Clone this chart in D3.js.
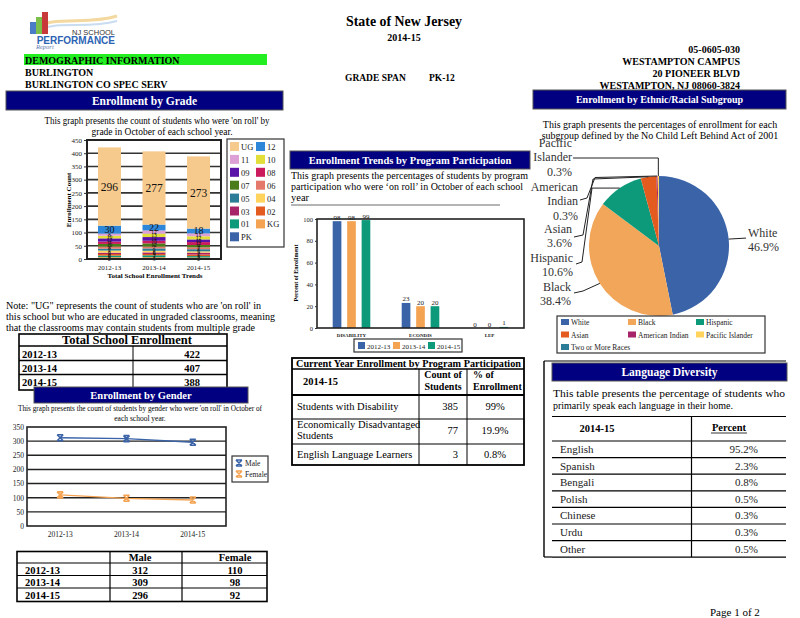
<!DOCTYPE html>
<html><head><meta charset="utf-8">
<script src="https://cdn.jsdelivr.net/npm/d3@7"></script>
<style>body{margin:0;background:#fff}svg{display:block;font-family:"Liberation Serif","Times New Roman",serif}</style>
</head><body><svg id="c" width="800" height="618"></svg>
<script>
// ---------------- DATA ----------------
const years = ["2012-13", "2013-14", "2014-15"];
const grades = ["PK","KG","01","02","03","04","05","06","07","08","09","10","11","12","UG"];
const grades2012 = [2,5,6,6,5,8,7,8,10,9,12,10,8,30,296];
const grades2013 = [3,4,7,5,6,6,9,7,12,10,14,13,12,22,277];
const grades2014 = [2,4,5,6,7,5,8,7,9,11,10,12,11,18,273];
const totalEnrollment = [422, 407, 388];
const programCats = ["DISABILITY", "ECONDIS", "LEP"];
const program2012 = [98, 23, 0];
const program2013 = [98, 20, 0];
const program2014 = [99, 20, 1];
const progTicks = [0, 20, 40, 60, 80, 100];
const ethnicNames = ["White","Black","Hispanic","Asian","American Indian","Pacific Islander","Two or More Races"];
const ethnicPct = [46.9, 38.4, 10.6, 3.6, 0.3, 0.3, 0];
const genderMale = [312, 309, 296];
const genderFemale = [110, 98, 92];
const currentProgNames = ["Students with Disability", "Economically Disadvantaged Students", "English Language Learners"];
const currentProgCounts = [385, 77, 3];
const currentProgPct = ["99%", "19.9%", "0.8%"];
const languages = ["English","Spanish","Bengali","Polish","Chinese","Urdu","Other"];
const languagePct = ["95.2%","2.3%","0.8%","0.5%","0.3%","0.3%","0.5%"];

// ---------------- STYLE ----------------
const serif = '"Liberation Serif","Times New Roman",serif';
const NAVY = "#000080";
const gradeColors = ["#3a63a8","#f4a352","#0c9a7a","#e35b1e","#a8246a","#ffd35c","#2a7c97","#e4786a","#4a7d1a","#cc1b5c","#5a12a8","#e2de3a","#dca0d6","#2e86d8","#f6c98c"];
const yearColors = ["#3a63a8","#f4a352","#0c9a7a"];
const ethnicColors = ["#3a63a8","#f2a65a","#0c9a7a","#e35b1e","#a8246a","#ffd35c","#2a7c97"];

const svg = d3.select("#c");
function T(x, y, s, size, o = {}) {
  const t = svg.append("text").attr("x", x).attr("y", y).attr("font-size", size)
    .attr("text-anchor", o.a || "start").attr("fill", o.c || "#000").text(s);
  if (o.b) t.attr("font-weight", "bold");
  if (o.f) t.attr("font-family", o.f);
  if (o.st) t.attr("font-style", o.st);
  if (o.len) t.attr("textLength", o.len).attr("lengthAdjust", "spacingAndGlyphs");
  return t;
}
function navyBar(x, y, w, h, s, size) {
  svg.append("rect").attr("x", x).attr("y", y).attr("width", w).attr("height", h).attr("fill", NAVY).attr("stroke", "#555").attr("stroke-width", 1);
  T(x + w / 2, y + h / 2 + size * 0.35, s, size, {a: "middle", b: true, c: "#fff"});
}
function line(x1, y1, x2, y2, w = 1, c = "#000") {
  svg.append("line").attr("x1", x1).attr("y1", y1).attr("x2", x2).attr("y2", y2).attr("stroke", c).attr("stroke-width", w);
}
function styleAxis(g, size) {
  g.attr("font-family", serif).attr("font-size", size);
  g.select(".domain").remove();
  g.selectAll(".tick line").attr("stroke", "#333");
  g.selectAll("text").attr("fill", "#222");
}

// ---------------- HEADER ----------------
const logo = svg.append("g");
logo.append("path").attr("d", "M30,30 C55,14 85,26 117,16").attr("fill", "none").attr("stroke", "#f3d9a0").attr("stroke-width", 3);
logo.append("path").attr("d", "M30,33 C55,19 85,30 117,21").attr("fill", "none").attr("stroke", "#c9dcf0").attr("stroke-width", 2);
logo.append("rect").attr("x", 30).attr("y", 22).attr("width", 6).attr("height", 12).attr("fill", "#4a7cc8");
logo.append("rect").attr("x", 36).attr("y", 17).attr("width", 6).attr("height", 17).attr("fill", "#7cbf4a");
logo.append("rect").attr("x", 42).attr("y", 12).attr("width", 6).attr("height", 22).attr("fill", "#c83a3a");
T(115, 35, "NJ SCHOOL", 7.5, {a: "end", f: "Liberation Sans", c: "#333"});
T(115, 43.5, "PERFORMANCE", 10, {a: "end", b: true, f: "Liberation Sans", c: "#2c64b4"});
T(36, 49, "Report", 6.5, {st: "italic", c: "#6080b0"});

T(404, 26, "State of New Jersey", 14, {a: "middle", b: true, len: 116});
T(404, 41, "2014-15", 10, {a: "middle", b: true});

svg.append("rect").attr("x", 24).attr("y", 54).attr("width", 243).attr("height", 11).attr("fill", "#22ee22");
T(25, 63.5, "DEMOGRAPHIC INFORMATION", 10, {b: true});
T(25, 76, "BURLINGTON", 10, {b: true});
T(25, 88, "BURLINGTON CO SPEC SERV", 10, {b: true});
T(345, 81, "GRADE SPAN", 9.5, {b: true});
T(429, 81, "PK-12", 9.5, {b: true});
const addr = ["05-0605-030", "WESTAMPTON CAMPUS", "20 PIONEER BLVD", "WESTAMPTON, NJ 08060-3824"];
addr.forEach((s, i) => T(740, 53 + i * 12, s, 10, {a: "end", b: true}));

navyBar(6, 91, 277, 19, "Enrollment by Grade", 11.5);
navyBar(533, 90, 253, 19, "Enrollment by Ethnic/Racial Subgroup", 10);

// ---------------- ENROLLMENT BY GRADE ----------------
T(157, 124, "This graph presents the count of students who were 'on roll' by", 9.5, {a: "middle", len: 225});
T(162, 135, "grade in October of each school year.", 9.5, {a: "middle", len: 141});

const gradeRows = years.map((y, i) => {
  const vals = [grades2012, grades2013, grades2014][i];
  const r = {year: y};
  grades.forEach((g, j) => r[g] = vals[j]);
  return r;
});
const gx = d3.scaleBand().domain(years).range([87, 221]).paddingInner(0.483).paddingOuter(0.247);
const gy = d3.scaleLinear().domain([0, 450]).range([259, 140]);
const gStack = d3.stack().keys(grades)(gradeRows);
const gChart = svg.append("g");
gChart.selectAll("line.grid").data(gy.ticks(9).filter(d => d > 0 && d < 450)).join("line")
  .attr("x1", 87).attr("x2", 221).attr("y1", d => gy(d)).attr("y2", d => gy(d)).attr("stroke", "#333").attr("stroke-width", 1.6);
gStack.forEach((layer, li) => {
  gChart.selectAll(null).data(layer).join("rect")
    .attr("x", d => gx(d.data.year)).attr("width", gx.bandwidth())
    .attr("y", d => gy(d[1])).attr("height", d => gy(d[0]) - gy(d[1]))
    .attr("fill", gradeColors[li]);
});
gStack.forEach((layer) => {
  gChart.selectAll(null).data(layer).join("text")
    .attr("x", d => gx(d.data.year) + gx.bandwidth() / 2)
    .attr("y", d => (gy(d[0]) + gy(d[1])) / 2)
    .attr("dy", "0.35em").attr("text-anchor", "middle")
    .attr("font-size", d => { const v = d[1] - d[0]; return v >= 100 ? 11.5 : v >= 15 ? 10 : 5.5; })
    .attr("fill", "#111")
    .text(d => d[1] - d[0]);
});
gChart.append("rect").attr("x", 87).attr("y", 140).attr("width", 134).attr("height", 119).attr("fill", "none").attr("stroke", "#222").attr("stroke-width", 2);
const gya = svg.append("g").attr("transform", "translate(86,0)").call(d3.axisLeft(gy).ticks(9).tickSize(2).tickPadding(2));
styleAxis(gya, 7);
const gxa = svg.append("g").attr("transform", "translate(0,260)").call(d3.axisBottom(gx).tickSize(0).tickPadding(5));
styleAxis(gxa, 7);
T(155, 278, "Total School Enrollment Trends", 7, {a: "middle", b: true});
svg.append("text").attr("transform", "translate(71,200) rotate(-90)").attr("text-anchor", "middle")
  .attr("font-size", 7).attr("font-weight", "bold").text("Enrollment Count");

const gLegOrder = grades.slice().reverse();
svg.append("rect").attr("x", 227).attr("y", 139).attr("width", 57).attr("height", 108).attr("fill", "#fff").attr("stroke", "#333").attr("stroke-width", 1.2);
gLegOrder.forEach((g, i) => {
  const col = i % 2, row = Math.floor(i / 2);
  const x = 230 + col * 26, y = 142 + row * 12.9;
  svg.append("rect").attr("x", x).attr("y", y).attr("width", 9).attr("height", 9).attr("fill", gradeColors[grades.indexOf(g)]);
  T(x + 11, y + 8, g, 8.5, {c: "#222"});
});

// Note
T(6, 309, "Note: \"UG\" represents the count of students who are 'on roll' in", 10, {len: 255});
T(6, 320, "this school but who are educated in ungraded classrooms, meaning", 10, {len: 269});
T(6, 331, "that the classrooms may contain students from multiple grade", 10, {len: 249});

// Total school enrollment table
svg.append("rect").attr("x", 19).attr("y", 334).attr("width", 208).attr("height", 56).attr("fill", "#fff").attr("stroke", "#000").attr("stroke-width", 1.6);
T(127, 344, "Total School Enrollment", 12.5, {a: "middle", b: true});
[346, 360.5, 374.5].forEach(y => line(19, y, 227, y, 1.3));
line(133, 346, 133, 390, 1);
years.forEach((y, i) => {
  T(22, 357.5 + i * 14, y, 10.5, {b: true});
  T(192, 357.5 + i * 14, totalEnrollment[i], 10.5, {a: "middle", b: true});
});

// ---------------- ENROLLMENT BY GENDER ----------------
navyBar(34, 387, 214, 16, "Enrollment by Gender", 10.5);
T(140, 411, "This graph presents the count of students by gender who were 'on roll' in October of", 7.5, {a: "middle", len: 244});
T(140, 421, "each school year.", 7.5, {a: "middle"});
const sx = d3.scaleBand().domain(years).range([27, 226]);
const sy = d3.scaleLinear().domain([0, 350]).range([526, 427]);
svg.selectAll("line.sgrid").data(sy.ticks(7).filter(d => d > 0 && d < 350)).join("line")
  .attr("x1", 27).attr("x2", 226).attr("y1", d => sy(d)).attr("y2", d => sy(d)).attr("stroke", "#222").attr("stroke-width", 1.4);
const genderSeries = [{name: "Male", vals: genderMale, c: yearColors[0]}, {name: "Female", vals: genderFemale, c: yearColors[1]}];
const ln = d3.line().x((d, i) => sx(years[i]) + sx.bandwidth() / 2).y(d => sy(d));
function xMark(g, x, y, c, s) {
  g.append("path").attr("d", `M${x - s},${y - s}L${x + s},${y + s}M${x - s},${y + s}L${x + s},${y - s}M${x - s},${y - s}L${x + s},${y - s}M${x - s},${y + s}L${x + s},${y + s}`)
    .attr("stroke", c).attr("stroke-width", 1.6).attr("fill", "none");
}
genderSeries.forEach(s => {
  svg.append("path").datum(s.vals).attr("d", ln).attr("fill", "none").attr("stroke", s.c).attr("stroke-width", 1.3);
  s.vals.forEach((v, i) => xMark(svg, sx(years[i]) + sx.bandwidth() / 2, sy(v), s.c, 3));
});
svg.append("rect").attr("x", 27).attr("y", 427).attr("width", 199).attr("height", 99).attr("fill", "none").attr("stroke", "#222").attr("stroke-width", 1.6);
const sya = svg.append("g").attr("transform", "translate(27,0)").call(d3.axisLeft(sy).ticks(7).tickSize(0).tickPadding(3));
styleAxis(sya, 7.5);
const sxa = svg.append("g").attr("transform", "translate(0,526)").call(d3.axisBottom(sx).tickSize(0).tickPadding(6));
styleAxis(sxa, 7.5);
svg.append("rect").attr("x", 232).attr("y", 456).attr("width", 36).attr("height", 26).attr("fill", "#fff").attr("stroke", "#333").attr("stroke-width", 1.2);
genderSeries.forEach((s, i) => {
  xMark(svg, 239, 463 + i * 11, s.c, 3);
  T(245, 466 + i * 11, s.name, 7.5, {c: "#222"});
});

svg.append("rect").attr("x", 17).attr("y", 551.5).attr("width", 250).attr("height", 50).attr("fill", "none").attr("stroke", "#000").attr("stroke-width", 1.6);
[563, 575.5, 588].forEach(y => line(17, y, 267, y, 1.2));
line(110, 551.5, 110, 601.5, 1.2);
line(182, 551.5, 182, 601.5, 1.2);
T(140, 561, "Male", 10.5, {a: "middle", b: true});
T(235, 561, "Female", 10.5, {a: "middle", b: true});
years.forEach((y, i) => {
  T(25, 573.5 + i * 12.6, y, 10.5, {b: true});
  T(140, 573.5 + i * 12.6, genderMale[i], 10.5, {a: "middle", b: true});
  T(235, 573.5 + i * 12.6, genderFemale[i], 10.5, {a: "middle", b: true});
});

// ---------------- PROGRAM PARTICIPATION ----------------
navyBar(290, 151, 240, 18, "Enrollment Trends by Program Participation", 10.5);
T(291, 179, "This graph presents the percentages of students by program", 10.5, {len: 237});
T(291, 190, "participation who were ‘on roll’ in October of each school", 10.5, {len: 232});
T(291, 201, "year", 10.5);
line(291, 205, 500, 205, 0.8, "#444");
const px0 = d3.scaleBand().domain(programCats).range([317, 524]);
const px1 = d3.scaleBand().domain(years).range([15.7, 53.3]).paddingInner(0.4);
const py = d3.scaleLinear().domain([0, 100]).range([328, 219]);
const progByYear = [program2012, program2013, program2014];
programCats.forEach((c, ci) => {
  years.forEach((y, yi) => {
    const v = progByYear[yi][ci];
    const x = px0(c) + px1(y);
    svg.append("rect").attr("x", x).attr("y", py(v)).attr("width", px1.bandwidth()).attr("height", py(0) - py(v)).attr("fill", yearColors[yi]);
    T(x + px1.bandwidth() / 2, py(v) - 1.5, v, 7, {a: "middle", c: "#222"});
  });
});
svg.append("rect").attr("x", 317).attr("y", 219).attr("width", 207).attr("height", 109).attr("fill", "none").attr("stroke", "#222").attr("stroke-width", 1.6);
const pya = svg.append("g").attr("transform", "translate(317,0)").call(d3.axisLeft(py).tickValues(progTicks).tickSize(2).tickPadding(2));
styleAxis(pya, 6.5);
const pxa = svg.append("g").attr("transform", "translate(0,328)").call(d3.axisBottom(px0).tickSize(0).tickPadding(5));
styleAxis(pxa, 5);
pxa.selectAll("text").attr("font-weight", "bold");
svg.append("text").attr("transform", "translate(298,273) rotate(-90)").attr("text-anchor", "middle")
  .attr("font-size", 6).attr("font-weight", "bold").text("Percent of Enrollment");
svg.append("rect").attr("x", 354).attr("y", 339).attr("width", 108).attr("height", 13).attr("fill", "#fff").attr("stroke", "#333").attr("stroke-width", 1.2);
years.forEach((y, i) => {
  svg.append("rect").attr("x", 358 + i * 35).attr("y", 342).attr("width", 7).attr("height", 7).attr("fill", yearColors[i]);
  T(367 + i * 35, 348.5, y, 7, {c: "#222"});
});

svg.append("rect").attr("x", 292).attr("y", 358).attr("width", 232).attr("height", 107).attr("fill", "none").attr("stroke", "#000").attr("stroke-width", 1.8);
line(292, 369, 524, 369, 1.4);
line(292, 395, 524, 395, 1.8);
line(292, 419, 524, 419, 1);
line(292, 444, 524, 444, 1);
line(419, 369, 419, 465, 1);
line(467, 369, 467, 465, 1);
T(296, 366.5, "Current Year Enrollment by Program Participation", 10.5, {b: true, len: 225});
T(303, 385, "2014-15", 10.5, {b: true});
T(443, 378, "Count of", 10, {a: "middle", b: true});
T(443, 390, "Students", 10, {a: "middle", b: true});
T(473, 378, "% of", 10, {b: true});
T(473, 390, "Enrollment", 10, {b: true});
T(297, 410, currentProgNames[0], 10.5);
T(297, 428, "Economically Disadvantaged", 10.5);
T(297, 439, "Students", 10.5);
T(297, 458, currentProgNames[2], 10.5);
[410, 434, 458].forEach((y, i) => {
  T(458, y, currentProgCounts[i], 10.5, {a: "end"});
  T(495, y, currentProgPct[i], 10.5, {a: "middle"});
});

// ---------------- ETHNIC PIE ----------------
T(660, 128, "This graph presents the percentages of enrollment for each", 10, {a: "middle"});
T(660, 139, "subgroup defined by the No Child Left Behind Act of 2001", 10, {a: "middle"});
const pcx = 659, pcy = 246, pr = 70;
const pie = d3.pie().sort(null).value(d => d.v);
const arcs = pie(ethnicNames.map((n, i) => ({n, v: ethnicPct[i], c: ethnicColors[i]})));
const arc = d3.arc().innerRadius(0).outerRadius(pr);
const pg = svg.append("g").attr("transform", `translate(${pcx},${pcy})`);
pg.selectAll("path").data(arcs.filter(a => a.data.v > 0)).join("path").attr("d", arc).attr("fill", d => d.data.c);
function edge(a) {
  const m = (a.startAngle + a.endAngle) / 2;
  return [pcx + pr * Math.sin(m), pcy - pr * Math.cos(m)];
}
const callouts = {
  "White": {pts: p => [p, [746, p[1] - 1]], x: 748, a: "start", lines: ["White", "46.9%"], y: 237},
  "Black": {pts: p => [p, [583, 291], [574, 293]], x: 571, a: "end", lines: ["Black", "38.4%"], y: 291},
  "Hispanic": {pts: p => [p, [592, p[1]], [582, 262], [576, 264]], x: 573, a: "end", lines: ["Hispanic", "10.6%"], y: 262},
  "Asian": {pts: p => [p, [593, 179], [583, 235], [574, 237]], x: 572, a: "end", lines: ["Asian", "3.6%"], y: 233},
  "American Indian": {pts: p => [p, [595, 177.5], [587, 198], [580, 200]], x: 578, a: "end", lines: ["American", "Indian", "0.3%"], y: 191},
  "Pacific Islander": {pts: p => [p, [p[0], 158], [573, 158]], x: 572, a: "end", lines: ["Pacific", "Islander", "0.3%"], y: 147}
};
arcs.forEach(a => {
  const co = callouts[a.data.n];
  if (!co) return;
  const pts = co.pts(edge(a));
  svg.append("path").attr("d", d3.line()(pts)).attr("fill", "none").attr("stroke", "#222").attr("stroke-width", 1);
  const pct = a.data.v.toFixed(1) + "%";
  co.lines.forEach((s, i) => {
    const txt = i === co.lines.length - 1 ? pct : s;
    T(co.x, co.y + i * 14.3, txt, 12, {a: co.a, c: "#333"});
  });
});
svg.append("rect").attr("x", 557).attr("y", 316).attr("width", 208).attr("height", 37).attr("fill", "#fff").attr("stroke", "#333").attr("stroke-width", 1.2);
ethnicNames.forEach((n, i) => {
  const col = i % 3, row = Math.floor(i / 3);
  const x = 561 + [0, 67, 135][col], y = 319 + row * 12.5;
  svg.append("rect").attr("x", x).attr("y", y).attr("width", 8).attr("height", 6).attr("fill", ethnicColors[i]);
  T(x + 10, y + 6, n, 7.5, {c: "#222"});
});

// ---------------- LANGUAGE DIVERSITY ----------------
line(544, 361, 544, 557, 1.4);
line(544, 361, 786, 361, 1.2);
navyBar(552, 363, 235, 18, "Language Diversity", 11.5);
T(553, 397, "This table presents the percentage of students who", 10.5, {len: 232});
T(553, 409, "primarily speak each language in their home.", 10.5, {len: 180});
line(552, 416.5, 786, 416.5, 1.2);
line(552, 441, 786, 441, 1.2);
line(691.5, 416.5, 691.5, 557, 1.2);
T(597, 432, "2014-15", 10.5, {a: "middle", b: true});
T(729, 431, "Percent", 10.5, {a: "middle", b: true});
line(711, 433, 747, 433, 0.8);
languages.forEach((l, i) => {
  const y0 = 441 + i * 16.6;
  T(560, y0 + 12, l, 11, {c: "#222"});
  T(758, y0 + 12, languagePct[i], 11, {a: "end", c: "#222"});
  line(552, y0 + 16.6, 786, y0 + 16.6, 1.2);
});
line(544, 557, 552, 557, 1.2);

T(710, 616, "Page 1 of 2", 11);
</script></body></html>
